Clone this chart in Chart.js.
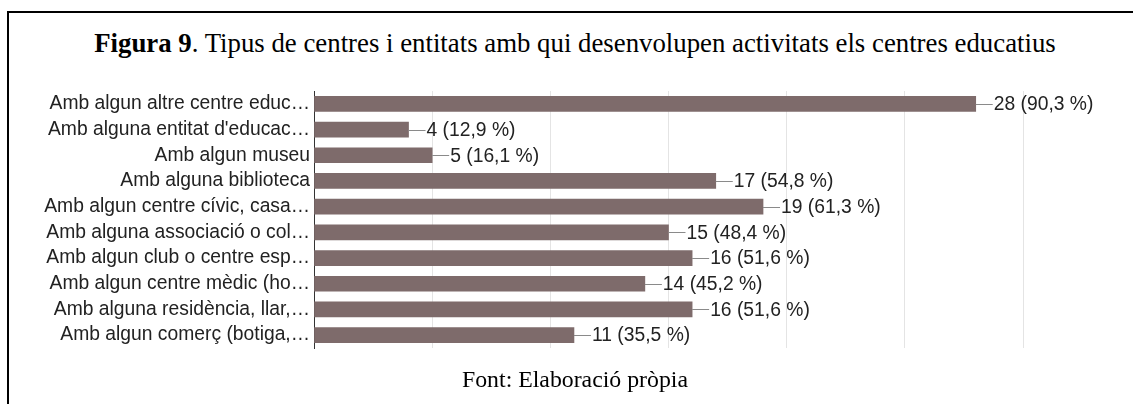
<!DOCTYPE html>
<html>
<head>
<meta charset="utf-8">
<script src="https://cdn.jsdelivr.net/npm/chart.js@4"></script>
<style>
  html, body { margin: 0; padding: 0; background: #fff; }
  body { width: 1133px; height: 404px; position: relative; overflow: hidden; }
  .frame { position: absolute; left: 7px; top: 11px; width: 1140px; height: 400px;
           border-left: 2px solid #000; border-top: 2px solid #000; }
  .title { position: absolute; left: 0; width: 1150px; top: 28px; text-align: center;
           font-family: "Liberation Serif", "Times New Roman", serif; font-size: 26.8px; color: #000;
           white-space: nowrap; }
  .footer { position: absolute; left: 0; width: 1150px; top: 366px; text-align: center;
            font-family: "Liberation Serif", "Times New Roman", serif; font-size: 23.8px; color: #000; }
  #wrap { position: absolute; left: 0; top: 0; width: 1133px; height: 404px; }
</style>
</head>
<body>
<div class="frame"></div>
<div class="title"><b>Figura 9</b>. Tipus de centres i entitats amb qui desenvolupen activitats els centres educatius</div>
<div id="wrap"><canvas id="chart"></canvas></div>
<div class="footer">Font: Elaboració pròpia</div>
<script>
const categories = [
  'Amb algun altre centre educ…',
  'Amb alguna entitat d\'educac…',
  'Amb algun museu',
  'Amb alguna biblioteca',
  'Amb algun centre cívic, casa…',
  'Amb alguna associació o col…',
  'Amb algun club o centre esp…',
  'Amb algun centre mèdic (ho…',
  'Amb alguna residència, llar,…',
  'Amb algun comerç (botiga,…'
];
const counts = [28, 4, 5, 17, 19, 15, 16, 14, 16, 11];
const percents = [90.3, 12.9, 16.1, 54.8, 61.3, 48.4, 51.6, 45.2, 51.6, 35.5];
const xTicks = [0, 5, 10, 15, 20, 25, 30];

const labelFont = '19.3px "Liberation Sans", Arial, sans-serif';

// value labels with a short leader line to the right of each bar
const barLabels = {
  id: 'barLabels',
  afterDatasetsDraw(chart) {
    const ctx = chart.ctx;
    const meta = chart.getDatasetMeta(0);
    ctx.save();
    ctx.font = labelFont;
    ctx.textBaseline = 'middle';
    meta.data.forEach((bar, i) => {
      const y = Math.round(bar.y) + 0.5;
      ctx.strokeStyle = '#8a8a8a';
      ctx.lineWidth = 1;
      ctx.beginPath();
      ctx.moveTo(bar.x, y);
      ctx.lineTo(bar.x + 17, y);
      ctx.stroke();
      ctx.fillStyle = '#222';
      const txt = counts[i] + ' (' + percents[i].toFixed(1).replace('.', ',') + ' %)';
      ctx.fillText(txt, bar.x + 18, bar.y + 1);
    });
    ctx.restore();
  }
};

new Chart(document.getElementById('chart'), {
  type: 'bar',
  data: {
    labels: categories,
    datasets: [{
      data: counts,
      backgroundColor: '#7e6b6b',
      borderWidth: 0,
      barThickness: 15
    }]
  },
  plugins: [barLabels],
  options: {
    indexAxis: 'y',
    responsive: true,
    maintainAspectRatio: false,
    animation: false,
    layout: { padding: { top: 91, right: 110, bottom: 56, left: 0 } },
    plugins: { legend: { display: false }, tooltip: { enabled: false } },
    scales: {
      x: {
        min: 0,
        max: 30,
        afterBuildTicks: (scale) => { scale.ticks = xTicks.map(v => ({ value: v })); },
        afterFit: (scale) => { scale.height = 0; },
        ticks: { display: false },
        grid: { color: '#e4e4e4', drawTicks: false },
        border: { display: false }
      },
      y: {
        afterFit: (scale) => { scale.width = 314; },
        ticks: {
          color: '#222',
          padding: 4,
          autoSkip: false,
          font: { family: '"Liberation Sans", Arial, sans-serif', size: 19.3 }
        },
        grid: { display: false, drawTicks: false },
        border: { display: true, color: '#333', width: 1 }
      }
    }
  }
});
</script>
</body>
</html>
